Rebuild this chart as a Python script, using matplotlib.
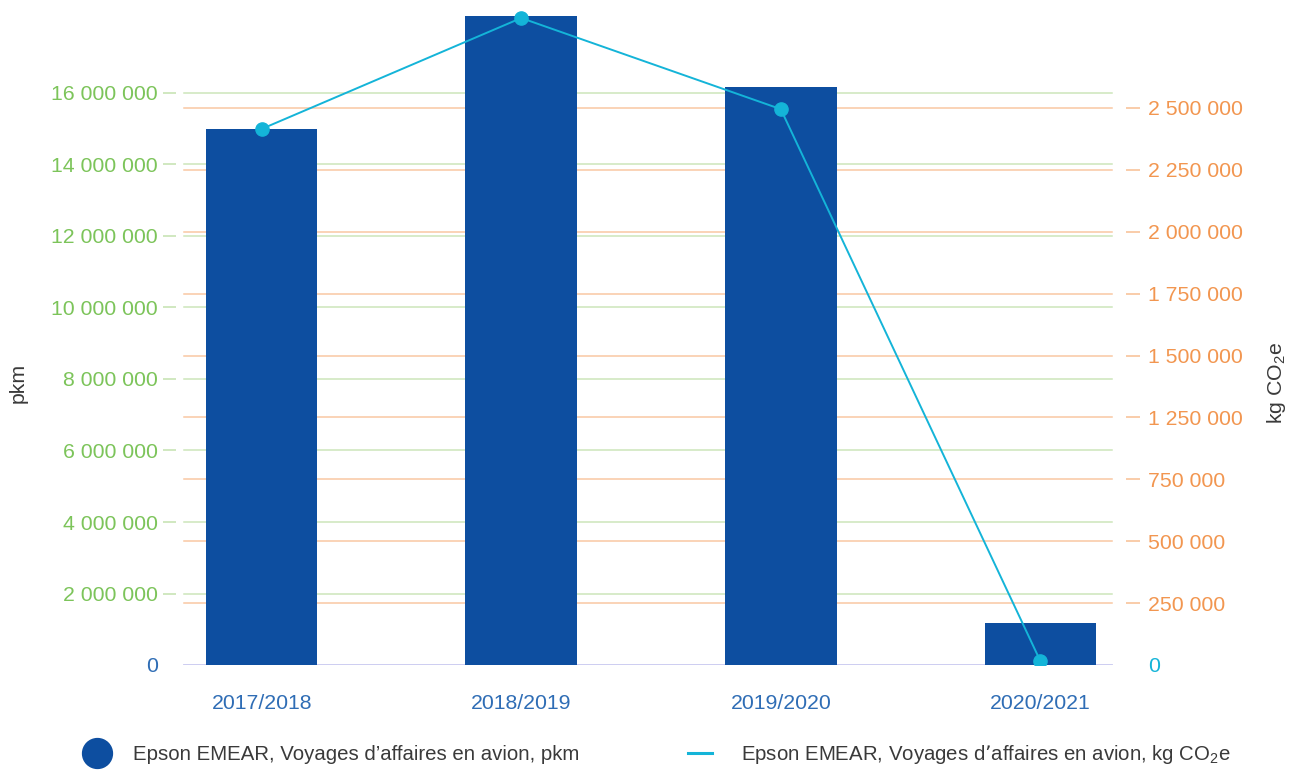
import matplotlib
matplotlib.use('Agg')
import matplotlib.pyplot as plt
import matplotlib.transforms as mtransforms
from matplotlib.lines import Line2D

plt.rcParams['font.family'] = ['Liberation Sans', 'DejaVu Sans']
plt.rcParams['mathtext.default'] = 'regular'

# data
years = ['2017/2018', '2018/2019', '2019/2020', '2020/2021']
pkm = [15.0e6, 18.15e6, 16.17e6, 1.17e6]
co2 = [2.165e6, 2.613e6, 2.245e6, 0.016e6]

left_ticks = [0, 2e6, 4e6, 6e6, 8e6, 10e6, 12e6, 14e6, 16e6]
left_labels = ['0', '2 000 000', '4 000 000', '6 000 000', '8 000 000',
               '10 000 000', '12 000 000', '14 000 000', '16 000 000']
right_ticks = [0, 250e3, 500e3, 750e3, 1000e3, 1250e3, 1500e3, 1750e3, 2000e3, 2250e3]
right_labels = ['0', '250 000', '500 000', '750 000', '1 250 000', '1 500 000',
                '1 750 000', '2 000 000', '2 250 000', '2 500 000']

bar_col = '#0d4ea0'
line_col = '#14b4d8'
green = '#7cc45a'
green_lt = '#cde6bb'
orange = '#f29650'
orange_lt = '#f9c8a3'
blue_txt = '#2f6db5'
grey_txt = '#3a3a3a'

W, H = 1295, 771
fig = plt.figure(figsize=(W / 100, H / 100), dpi=100)
x0, x1, yb, yt = 176, 1126, 665, 0
ax = fig.add_axes([x0 / W, 1 - yb / H, (x1 - x0) / W, (yb - yt) / H])
ax2 = ax.twinx()

ax.set_ylim(0, 665 / 71.5 * 2e6)
ax2.set_ylim(0, 665 / 61.9 * 250e3)
ax.set_xlim(-0.33, 3.33)

gx0 = (184 - x0) / (x1 - x0)
gx1 = (1112 - x0) / (x1 - x0)

# gridlines under the bars
for v in left_ticks[1:]:
    ax.axhline(v, gx0, gx1, color=green_lt, lw=1.1, zorder=1)
trans = mtransforms.blended_transform_factory(ax.transAxes, ax2.transData)
for v in right_ticks[1:]:
    ax.plot([gx0, gx1], [v, v], transform=trans, color=orange_lt, lw=1.1, zorder=1)
ax.axhline(0, gx0, gx1, color='#c9c9f0', lw=1.3, zorder=1)

ax.bar(range(len(years)), pkm, width=0.43, color=bar_col, zorder=2)
ax2.plot(range(len(years)), co2, color=line_col, lw=1.4, marker='o', ms=9.5, zorder=3)

for a in (ax, ax2):
    for s in a.spines.values():
        s.set_visible(False)

fs_tick = 15.3
ax.set_xticks(range(len(years)))
ax.set_xticklabels(years, color=blue_txt, fontsize=fs_tick)
ax.tick_params(axis='x', length=0, pad=21)

ax.set_yticks(left_ticks)
ax.set_yticklabels(left_labels, fontsize=fs_tick, color=green)
ax.tick_params(axis='y', length=9.5, width=1.3, color=green_lt, pad=3.5)
ax.get_yticklabels()[0].set_color(blue_txt)
ax.yaxis.get_major_ticks()[0].tick1line.set_visible(False)

ax2.set_yticks(right_ticks)
ax2.set_yticklabels(right_labels, fontsize=fs_tick, color=orange)
ax2.tick_params(axis='y', length=10, width=1.3, color=orange_lt, pad=6)
ax2.get_yticklabels()[0].set_color(line_col)
ax2.yaxis.get_major_ticks()[0].tick2line.set_visible(False)

fig.text(18 / W, 1 - 383 / H, 'pkm', rotation=90, ha='center', va='center',
         fontsize=fs_tick, color=grey_txt)
fig.text(1276 / W, 1 - 383 / H, 'kg CO$_2$e', rotation=90, ha='center', va='center',
         fontsize=fs_tick, color=grey_txt)

# legend along the bottom
fs = 14.7
em = fs * 100 / 72
h1 = Line2D([], [], ls='none', marker='o', ms=21.5, color=bar_col)
fig.legend([h1], ['Epson EMEAR, Voyages d\u2019affaires en avion, pkm'],
           loc='center left', bbox_to_anchor=(81.5 / W, 1 - 755 / H),
           frameon=False, borderpad=0, borderaxespad=0, fontsize=fs,
           handlelength=31 / em, handletextpad=(133 - 112.5) / em,
           labelcolor=grey_txt)
h2 = Line2D([], [], color=line_col, lw=2.2)
fig.legend([h2], ['Epson EMEAR, Voyages d\u2019affaires en avion, kg CO$_2$e'],
           loc='center left', bbox_to_anchor=(688 / W, 1 - 755 / H),
           frameon=False, borderpad=0, borderaxespad=0, fontsize=fs,
           handlelength=24 / em, handletextpad=(741 - 712) / em,
           labelcolor=grey_txt)

fig.savefig('out.png', dpi=100)
